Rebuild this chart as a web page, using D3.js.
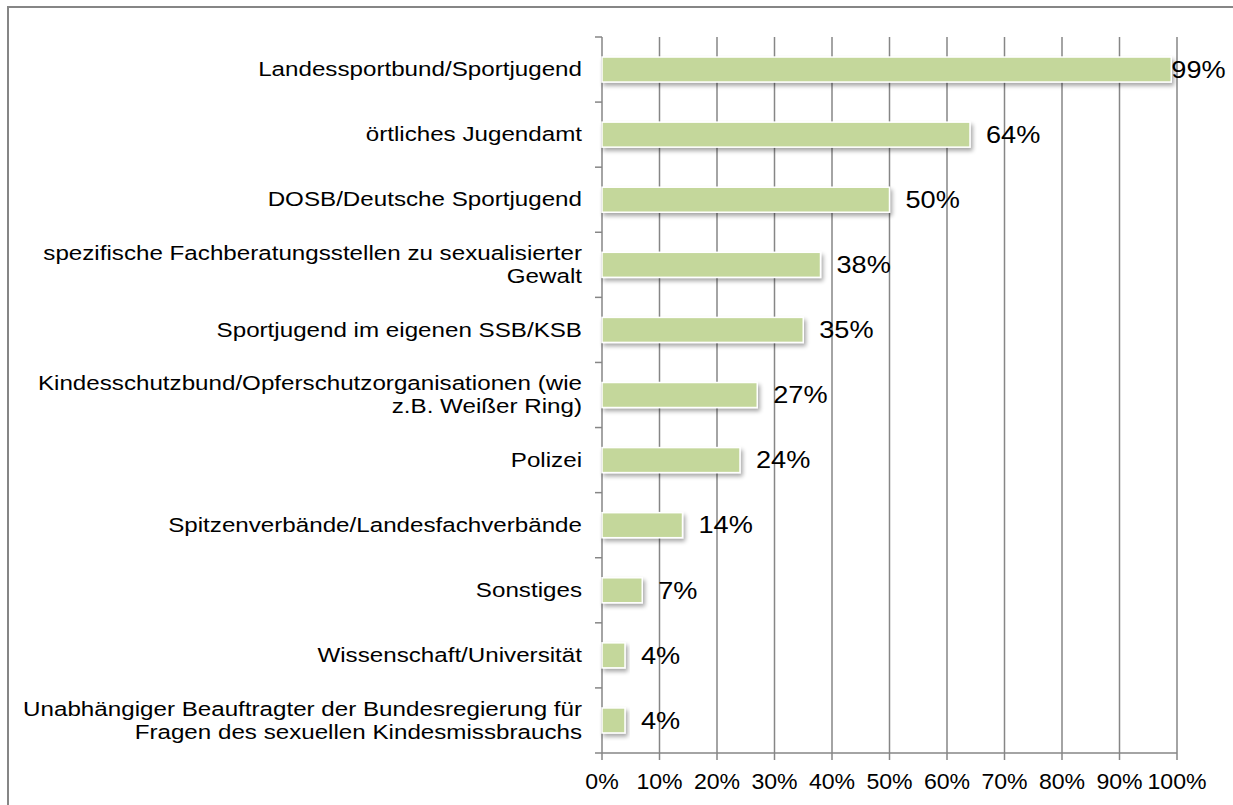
<!DOCTYPE html>
<html>
<head>
<meta charset="utf-8">
<script src="https://cdn.jsdelivr.net/npm/d3@7"></script>
<style>
  body { margin: 0; background: #fff; }
  svg text { font-family: Arial, "Liberation Sans", sans-serif; fill: #000; }
</style>
</head>
<body>
<div id="chart"></div>
<script>
// categories (top to bottom), with line breaks as in the original
const categories = [
    ["Landessportbund/Sportjugend"],
    ["örtliches Jugendamt"],
    ["DOSB/Deutsche Sportjugend"],
    ["spezifische Fachberatungsstellen zu sexualisierter", "Gewalt"],
    ["Sportjugend im eigenen SSB/KSB"],
    ["Kindesschutzbund/Opferschutzorganisationen (wie", "z.B. Weißer Ring)"],
    ["Polizei"],
    ["Spitzenverbände/Landesfachverbände"],
    ["Sonstiges"],
    ["Wissenschaft/Universität"],
    ["Unabhängiger Beauftragter der Bundesregierung für", "Fragen des sexuellen Kindesmissbrauchs"]
];
const values = [99, 64, 50, 38, 35, 27, 24, 14, 7, 4, 4];
const tickValues = [0, 10, 20, 30, 40, 50, 60, 70, 80, 90, 100];

const width = 1233, height = 805;
const plot = { left: 602, right: 1177, top: 37, bottom: 753 };
const stretch = 1.18;    // reference text is wider than tall
const catStretch = 1.24;

const svg = d3.select("#chart").append("svg")
    .attr("width", width)
    .attr("height", height);

// drop shadow for the bars
const defs = svg.append("defs");
const shadow = defs.append("filter").attr("id", "shadow")
    .attr("x", "-20%").attr("y", "-30%").attr("width", "140%").attr("height", "180%");
shadow.append("feGaussianBlur").attr("in", "SourceAlpha").attr("stdDeviation", 2);
shadow.append("feOffset").attr("dx", 2).attr("dy", 3).attr("result", "blur");
shadow.append("feComponentTransfer").append("feFuncA").attr("type", "linear").attr("slope", 0.35);
const merge = shadow.append("feMerge");
merge.append("feMergeNode");
merge.append("feMergeNode").attr("in", "SourceGraphic");

// outer frame: only top and left edges fall inside the picture
svg.append("path")
    .attr("d", `M8,${height} L8,7 L${width},7`)
    .attr("fill", "none")
    .attr("stroke", "#868686")
    .attr("stroke-width", 2);

const x = d3.scaleLinear().domain([0, 100]).range([plot.left, plot.right]);
const y = d3.scaleBand().domain(d3.range(categories.length)).range([plot.top, plot.bottom]);
const barH = 25;

// vertical gridlines
svg.append("g").selectAll("line")
    .data(tickValues.filter(d => d > 0))
    .join("line")
    .attr("x1", d => x(d)).attr("x2", d => x(d))
    .attr("y1", plot.top).attr("y2", plot.bottom + 7)
    .attr("stroke", "#868686")
    .attr("stroke-width", 1.5);

// bottom axis line + tick labels
svg.append("line")
    .attr("x1", plot.left).attr("x2", plot.right)
    .attr("y1", plot.bottom).attr("y2", plot.bottom)
    .attr("stroke", "#868686").attr("stroke-width", 1.5);

svg.append("g").selectAll("text")
    .data(tickValues)
    .join("text")
    .attr("transform", d => `translate(${x(d)},${plot.bottom + 36}) scale(1.05,1)`)
    .attr("text-anchor", "middle")
    .style("font-size", "22px")
    .text(d => d + "%");

// left axis line with ticks on band boundaries
svg.append("line")
    .attr("x1", plot.left).attr("x2", plot.left)
    .attr("y1", plot.top).attr("y2", plot.bottom + 7)
    .attr("stroke", "#868686").attr("stroke-width", 1.5);

svg.append("g").selectAll("line")
    .data(d3.range(categories.length + 1))
    .join("line")
    .attr("x1", plot.left - 7).attr("x2", plot.left)
    .attr("y1", i => plot.top + i * y.step())
    .attr("y2", i => plot.top + i * y.step())
    .attr("stroke", "#868686").attr("stroke-width", 1.5);

// bars
svg.append("g").selectAll("rect")
    .data(values)
    .join("rect")
    .attr("x", x(0))
    .attr("y", (d, i) => y(i) + y.bandwidth() / 2 - barH / 2)
    .attr("width", d => x(d) - x(0))
    .attr("height", barH)
    .attr("fill", "#c4d79b")
    .attr("stroke", "#fff")
    .attr("stroke-width", 1.5)
    .attr("filter", "url(#shadow)");

// value labels
svg.append("g").selectAll("text")
    .data(values)
    .join("text")
    .attr("transform", (d, i) => {
        const lx = Math.min(x(d) + 16, 1228 - 48 * stretch);
        return `translate(${lx},${y(i) + y.bandwidth() / 2}) scale(${stretch},1)`;
    })
    .attr("dominant-baseline", "central")
    .style("font-size", "23px")
    .text(d => d + "%");

// category labels, right-aligned
const lineH = 23;
const catLabels = svg.append("g").selectAll("text")
    .data(categories)
    .join("text")
    .attr("transform", (d, i) => `translate(582,${y(i) + y.bandwidth() / 2}) scale(${catStretch},1)`)
    .attr("text-anchor", "end")
    .style("font-size", "19.5px");

catLabels.selectAll("tspan")
    .data(d => d.map((t, k) => ({ t, k, n: d.length })))
    .join("tspan")
    .attr("x", 0)
    .attr("y", d => (d.k - (d.n - 1) / 2) * lineH)
    .attr("dominant-baseline", "central")
    .text(d => d.t);
</script>
</body>
</html>
